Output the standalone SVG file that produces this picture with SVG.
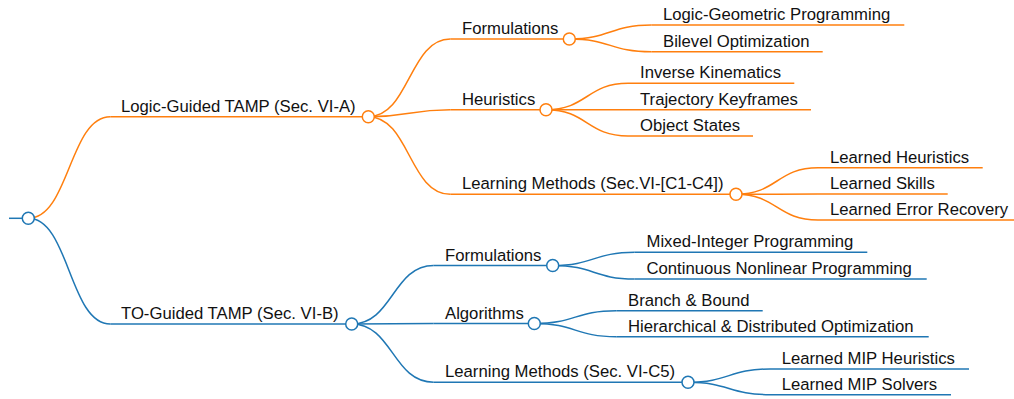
<svg xmlns="http://www.w3.org/2000/svg" width="1014" height="399" viewBox="0 0 1014 399">
<style>
  .o { stroke: #ff7f0e; }
  .b { stroke: #1f77b4; }
  path, line { fill: none; stroke-width: 1.5; }
  circle { fill: #ffffff; stroke-width: 1.5; }
  text { font-family: "Liberation Sans", Arial, Helvetica, sans-serif; font-size: 16.7px; fill: #111111; }
</style>
<rect width="1014" height="399" fill="#ffffff"/>
<g id="connectors">
  <path class="b" d="M28.3,218.3 C69.3,218.3 69.3,324 110.3,324"/>
  <path class="o" d="M28.3,218.3 C69.3,218.3 69.3,116.7 110.3,116.7"/>
  <path class="o" d="M368.3,116.7 C409.3,116.7 409.3,39 450.3,39"/>
  <path class="o" d="M368.3,116.7 C409.3,116.7 409.3,109.7 450.3,109.7"/>
  <path class="o" d="M368.3,116.7 C409.3,116.7 409.3,194.3 450.3,194.3"/>
  <path class="o" d="M569.3,39 C610.3,39 610.3,25 651.3,25"/>
  <path class="o" d="M569.3,39 C610.3,39 610.3,51.7 651.3,51.7"/>
  <path class="o" d="M546,109.7 C587,109.7 587,83.3 628,83.3"/>
  <path class="o" d="M546,109.7 C587,109.7 587,109.7 628,109.7"/>
  <path class="o" d="M546,109.7 C587,109.7 587,136 628,136"/>
  <path class="o" d="M736,194.3 C777,194.3 777,167.7 818,167.7"/>
  <path class="o" d="M736,194.3 C777,194.3 777,194 818,194"/>
  <path class="o" d="M736,194.3 C777,194.3 777,220 818,220"/>
  <path class="b" d="M351.7,324 C392.7,324 392.7,265.5 433.7,265.5"/>
  <path class="b" d="M351.7,324 C392.7,324 392.7,323.5 433.7,323.5"/>
  <path class="b" d="M351.7,324 C392.7,324 392.7,382.3 433.7,382.3"/>
  <path class="b" d="M552.7,265.5 C593.7,265.5 593.7,252.3 634.7,252.3"/>
  <path class="b" d="M552.7,265.5 C593.7,265.5 593.7,279 634.7,279"/>
  <path class="b" d="M534.3,323.5 C575.3,323.5 575.3,310.7 616.3,310.7"/>
  <path class="b" d="M534.3,323.5 C575.3,323.5 575.3,336.7 616.3,336.7"/>
  <path class="b" d="M688,382.3 C729,382.3 729,369 770,369"/>
  <path class="b" d="M688,382.3 C729,382.3 729,394.7 770,394.7"/>
</g>
<g id="root">
  <line class="b" x1="9" y1="218.3" x2="28.3" y2="218.3"/>
  <circle class="b" cx="28.3" cy="218.3" r="6"/>
</g>
<g id="logic-guided">
  <line class="o" x1="110.3" y1="116.7" x2="368.3" y2="116.7"/>
  <text x="121" y="111.7">Logic-Guided TAMP (Sec. VI-A)</text>
  <circle class="o" cx="368.3" cy="116.7" r="6"/>
</g>
<g id="lg-formulations">
  <line class="o" x1="450.3" y1="39" x2="569.3" y2="39"/>
  <text x="462" y="34">Formulations</text>
  <circle class="o" cx="569.3" cy="39" r="6"/>
</g>
<g id="lg-heuristics">
  <line class="o" x1="450.3" y1="109.7" x2="546" y2="109.7"/>
  <text x="462" y="104.7">Heuristics</text>
  <circle class="o" cx="546" cy="109.7" r="6"/>
</g>
<g id="lg-learning">
  <line class="o" x1="450.3" y1="194.3" x2="736" y2="194.3"/>
  <text x="462" y="189.3">Learning Methods (Sec.VI-[C1-C4])</text>
  <circle class="o" cx="736" cy="194.3" r="6"/>
</g>
<g id="lgp">
  <line class="o" x1="651.3" y1="25" x2="904.3" y2="25"/>
  <text x="663" y="20">Logic-Geometric Programming</text>
</g>
<g id="bilevel">
  <line class="o" x1="651.3" y1="51.7" x2="822.7" y2="51.7"/>
  <text x="663" y="46.7">Bilevel Optimization</text>
</g>
<g id="ik">
  <line class="o" x1="628" y1="83.3" x2="794.3" y2="83.3"/>
  <text x="640" y="78.3">Inverse Kinematics</text>
</g>
<g id="keyframes">
  <line class="o" x1="628" y1="109.7" x2="811" y2="109.7"/>
  <text x="640" y="104.7">Trajectory Keyframes</text>
</g>
<g id="object-states">
  <line class="o" x1="628" y1="136" x2="753" y2="136"/>
  <text x="640" y="131">Object States</text>
</g>
<g id="learned-heuristics">
  <line class="o" x1="818" y1="167.7" x2="982.7" y2="167.7"/>
  <text x="830" y="162.7">Learned Heuristics</text>
</g>
<g id="learned-skills">
  <line class="o" x1="818" y1="194" x2="947.7" y2="194"/>
  <text x="830" y="189">Learned Skills</text>
</g>
<g id="learned-error-recovery">
  <line class="o" x1="818" y1="220" x2="1020" y2="220"/>
  <text x="830" y="215">Learned Error Recovery</text>
</g>
<g id="to-guided">
  <line class="b" x1="110.3" y1="324" x2="351.7" y2="324"/>
  <text x="121" y="319">TO-Guided TAMP (Sec. VI-B)</text>
  <circle class="b" cx="351.7" cy="324" r="6"/>
</g>
<g id="to-formulations">
  <line class="b" x1="433.7" y1="265.5" x2="552.7" y2="265.5"/>
  <text x="445" y="260.5">Formulations</text>
  <circle class="b" cx="552.7" cy="265.5" r="6"/>
</g>
<g id="to-algorithms">
  <line class="b" x1="433.7" y1="323.5" x2="534.3" y2="323.5"/>
  <text x="445" y="318.5">Algorithms</text>
  <circle class="b" cx="534.3" cy="323.5" r="6"/>
</g>
<g id="to-learning">
  <line class="b" x1="433.7" y1="382.3" x2="688" y2="382.3"/>
  <text x="445" y="377.3">Learning Methods (Sec. VI-C5)</text>
  <circle class="b" cx="688" cy="382.3" r="6"/>
</g>
<g id="mip">
  <line class="b" x1="634.7" y1="252.3" x2="867.3" y2="252.3"/>
  <text x="646.5" y="247.3">Mixed-Integer Programming</text>
</g>
<g id="cnlp">
  <line class="b" x1="634.7" y1="279" x2="926.7" y2="279"/>
  <text x="646.5" y="274">Continuous Nonlinear Programming</text>
</g>
<g id="bnb">
  <line class="b" x1="616.3" y1="310.7" x2="762.7" y2="310.7"/>
  <text x="628" y="305.7">Branch &amp; Bound</text>
</g>
<g id="hdo">
  <line class="b" x1="616.3" y1="336.7" x2="928.7" y2="336.7"/>
  <text x="628" y="331.7">Hierarchical &amp; Distributed Optimization</text>
</g>
<g id="mip-heuristics">
  <line class="b" x1="770" y1="369" x2="969" y2="369"/>
  <text x="781.7" y="364">Learned MIP Heuristics</text>
</g>
<g id="mip-solvers">
  <line class="b" x1="770" y1="394.7" x2="951" y2="394.7"/>
  <text x="781.7" y="389.7">Learned MIP Solvers</text>
</g>
</svg>
